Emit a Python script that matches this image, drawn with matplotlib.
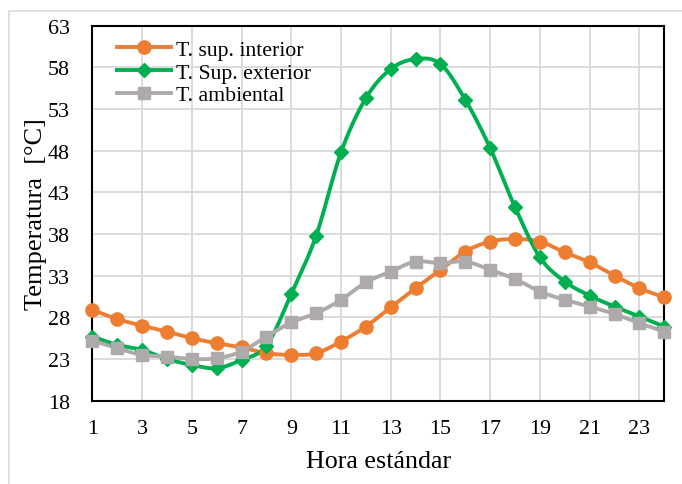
import matplotlib.pyplot as plt
import matplotlib.patches as mpatches
import numpy as np

plt.rcParams['font.family'] = ['Liberation Serif', 'DejaVu Serif']

# Datos horarios
horas = list(range(1, 25))
t_interior = [28.9, 27.8, 27.0, 26.3, 25.5, 24.9, 24.4, 23.7, 23.5, 23.7, 25.1, 26.9,
              29.2, 31.5, 33.7, 35.9, 37.1, 37.4, 37.1, 35.8, 34.6, 33.0, 31.5, 30.4]
t_exterior = [25.7, 24.7, 24.1, 23.0, 22.3, 21.9, 22.9, 24.6, 30.8, 37.8, 47.8, 54.3,
              57.8, 59.0, 58.4, 54.1, 48.3, 41.2, 35.2, 32.3, 30.6, 29.3, 28.1, 26.9]
t_ambiente = [25.2, 24.3, 23.5, 23.3, 23.0, 23.1, 23.9, 25.7, 27.4, 28.5, 30.1, 32.2,
              33.5, 34.7, 34.5, 34.7, 33.7, 32.6, 31.1, 30.1, 29.3, 28.4, 27.3, 26.3]

series = [
    ("T. sup. interior", t_interior, "#ED7D31", "o", 9.5),
    ("T. Sup. exterior", t_exterior, "#00B050", "D", 7),
    ("T. ambiental", t_ambiente, "#AEAAAA", "s", 8.5),
]


# curva suavizada (Catmull-Rom) entre los puntos, como las "líneas suavizadas"
def suavizar(x, y, n=20):
    x = np.asarray(x, float)
    y = np.asarray(y, float)
    px = np.concatenate([[2 * x[0] - x[1]], x, [2 * x[-1] - x[-2]]])
    py = np.concatenate([[2 * y[0] - y[1]], y, [2 * y[-1] - y[-2]]])
    xs, ys = [], []
    t = np.linspace(0, 1, n, endpoint=False)
    for i in range(1, len(px) - 2):
        for p, out in ((px, xs), (py, ys)):
            p0, p1, p2, p3 = p[i - 1], p[i], p[i + 1], p[i + 2]
            out.extend(0.5 * (2 * p1 + (-p0 + p2) * t
                              + (2 * p0 - 5 * p1 + 4 * p2 - p3) * t ** 2
                              + (-p0 + 3 * p1 - 3 * p2 + p3) * t ** 3))
    xs.append(x[-1])
    ys.append(y[-1])
    return xs, ys


fig = plt.figure(figsize=(6.82, 4.85), dpi=100)
ax = fig.add_axes([92.3 / 682, 1 - 401.7 / 485, 572 / 682, 375 / 485])

# borde del área del gráfico
fig.patches.append(mpatches.Rectangle((9 / 682, -0.05), 1.0, 1 - 12 / 485 + 0.05,
                                      transform=fig.transFigure, fill=False,
                                      edgecolor="#D9D9D9", linewidth=1.2))

for nombre, valores, color, marca, tam in series:
    xs, ys = suavizar(horas, valores)
    ax.plot(xs, ys, color=color, linewidth=2.8, zorder=3)
    ax.plot(horas, valores, linestyle="none", marker=marca, markersize=tam,
            color=color, zorder=4, clip_on=False)

# entradas de la leyenda con línea y marcador
handles = [plt.Line2D([], [], color=c, linewidth=2.8, marker=m, markersize=s)
           for _, _, c, m, s in series]
ax.legend(handles, [s[0] for s in series], loc="upper left",
          bbox_to_anchor=(0.035, 0.975), frameon=False, fontsize=15.7,
          handlelength=2.5, handletextpad=0.2, labelspacing=0.12,
          borderpad=0.2, borderaxespad=0)

ax.set_xlim(1, 24)
ax.set_ylim(18, 63)
ax.set_xticks(range(1, 24, 2))
ax.set_yticks(range(18, 64, 5))
ax.grid(True, color="#D9D9D9", linewidth=1.3)
ax.set_axisbelow(True)
ax.tick_params(length=0, labelsize=15.8)
ax.tick_params(axis="y", pad=16)
ax.tick_params(axis="x", pad=13)
for sp in ax.spines.values():
    sp.set_linewidth(1.5)
    sp.set_color("black")

ax.set_xlabel("Hora estándar", fontsize=18.7, labelpad=9)
ax.set_ylabel("Temperatura  [°C]", fontsize=19, labelpad=1)

fig.savefig("out.png", dpi=100)
